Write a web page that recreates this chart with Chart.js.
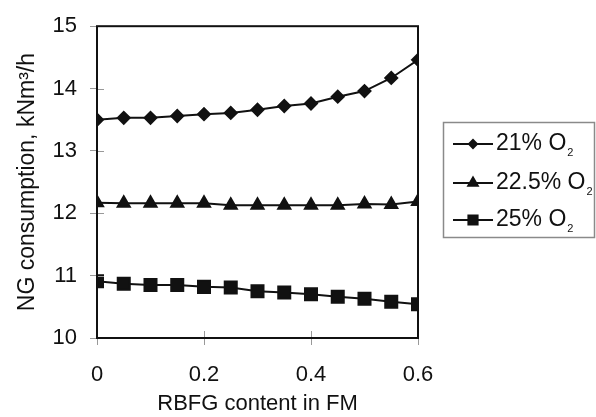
<!DOCTYPE html>
<html>
<head>
<meta charset="utf-8">
<script src="https://cdn.jsdelivr.net/npm/chart.js@4/dist/chart.umd.min.js"></script>
<style>
  html, body { margin: 0; padding: 0; background: #fff; }
  #wrap { width: 596px; height: 417px; }
</style>
</head>
<body>
<div id="wrap"><canvas id="chartscreen" width="596" height="417"></canvas></div>
<script>
// RBFG content in FM (x) and NG consumption for each O2 level
const rbfg = [0, 0.05, 0.1, 0.15, 0.2, 0.25, 0.3, 0.35, 0.4, 0.45, 0.5, 0.55, 0.6];
const o2_21 = [13.50, 13.53, 13.53, 13.56, 13.59, 13.61, 13.66, 13.72, 13.76, 13.87, 13.96, 14.17, 14.46];
const o2_225 = [12.17, 12.16, 12.16, 12.16, 12.16, 12.13, 12.13, 12.13, 12.13, 12.13, 12.15, 12.14, 12.19];
const o2_25 = [10.91, 10.87, 10.85, 10.85, 10.82, 10.81, 10.75, 10.73, 10.70, 10.66, 10.63, 10.58, 10.54];

const seriesNames = ["21% O", "22.5% O", "25% O"];
const xTicks = [0, 0.2, 0.4, 0.6];
const yTicks = [10, 11, 12, 13, 14, 15];

const FONT = "'Liberation Sans', Arial, sans-serif";

function pts(vals) {
    return rbfg.map((x, i) => ({ x: x, y: vals[i] }));
}

// frame round the plot, inward tick stubs and the boxed legend
const framePlugin = {
    id: 'frame',
    afterDraw(chart) {
        const ctx = chart.ctx;
        const a = chart.chartArea;
        const xs = chart.scales.x, ys = chart.scales.y;
        ctx.save();
        ctx.strokeStyle = '#999';
        ctx.lineWidth = 1;
        yTicks.forEach(v => {
            const py = Math.round(ys.getPixelForValue(v)) + 0.5;
            ctx.beginPath(); ctx.moveTo(a.left, py); ctx.lineTo(a.left + 7, py); ctx.stroke();
        });
        xTicks.forEach(v => {
            const px = Math.round(xs.getPixelForValue(v)) + 0.5;
            ctx.beginPath(); ctx.moveTo(px, a.bottom); ctx.lineTo(px, a.bottom - 7); ctx.stroke();
        });
        ctx.strokeStyle = '#111';
        ctx.lineWidth = 2;
        ctx.strokeRect(a.left, a.top, a.right - a.left, a.bottom - a.top);

        // legend
        ctx.strokeStyle = '#8a8a8a';
        ctx.lineWidth = 1.5;
        ctx.strokeRect(443.5, 122.5, 151, 115);
        const rowsY = [144, 183, 220];
        const styles = [['rectRot', 4], ['triangle', 5.5], ['rect', 6.5]];
        chart.data.datasets.forEach((ds, i) => {
            const y = rowsY[i];
            ctx.strokeStyle = '#111';
            ctx.lineWidth = 2;
            ctx.beginPath(); ctx.moveTo(453, y); ctx.lineTo(493, y); ctx.stroke();
            ctx.fillStyle = '#111';
            Chart.helpers.drawPoint(ctx, { pointStyle: styles[i][0], radius: styles[i][1], borderWidth: 1 }, 473, y);
            ctx.fill();
            ctx.fillStyle = '#111';
            ctx.font = '23px ' + FONT;
            ctx.textBaseline = 'middle';
            ctx.textAlign = 'left';
            ctx.fillText(seriesNames[i], 496, y);
            const w = ctx.measureText(seriesNames[i]).width;
            ctx.font = '11px ' + FONT;
            ctx.fillText('2', 496 + w + 1, y + 9);
        });
        ctx.restore();
    }
};

const chart_canvas = document.getElementById('chartscreen');

new Chart(chart_canvas, {
    type: 'line',
    data: {
        datasets: [{
            label: '21% O₂',
            data: pts(o2_21),
            borderColor: '#111',
            backgroundColor: '#111',
            borderWidth: 2,
            pointStyle: 'rectRot',
            pointRadius: 6
        }, {
            label: '22.5% O₂',
            data: pts(o2_225),
            borderColor: '#111',
            backgroundColor: '#111',
            borderWidth: 2,
            pointStyle: 'triangle',
            pointRadius: 7
        }, {
            label: '25% O₂',
            data: pts(o2_25),
            borderColor: '#111',
            backgroundColor: '#111',
            borderWidth: 2,
            pointStyle: 'rect',
            pointRadius: 8.5
        }]
    },
    options: {
        responsive: false,
        animation: false,
        layout: { padding: { top: 21, right: 178, left: 0, bottom: 0 } },
        plugins: {
            legend: { display: false },
            tooltip: { enabled: false }
        },
        elements: { line: { tension: 0 } },
        scales: {
            x: {
                type: 'linear',
                min: 0,
                max: 0.6,
                afterBuildTicks: s => { s.ticks = xTicks.map(v => ({ value: v })); },
                afterFit: s => { s.height = 79; },
                grid: { drawOnChartArea: false, drawTicks: true, tickLength: 7, color: '#999' },
                border: { display: false },
                ticks: {
                    color: '#111',
                    font: { family: FONT, size: 22 },
                    padding: 17,
                    callback: v => String(v)
                },
                title: {
                    display: true,
                    text: 'RBFG content in FM',
                    color: '#111',
                    font: { family: FONT, size: 22 },
                    padding: { top: 0, bottom: 0 }
                }
            },
            y: {
                min: 10,
                max: 15,
                afterBuildTicks: s => { s.ticks = yTicks.map(v => ({ value: v })); },
                afterFit: s => { s.width = 97; },
                grid: { drawOnChartArea: false, drawTicks: true, tickLength: 7, color: '#999' },
                border: { display: false },
                ticks: {
                    color: '#111',
                    font: { family: FONT, size: 22 },
                    padding: 13
                },
                title: {
                    display: true,
                    text: 'NG consumption, kNm³/h',
                    color: '#111',
                    font: { family: FONT, size: 23 },
                    padding: { top: 14, bottom: 0 }
                }
            }
        }
    },
    plugins: [framePlugin]
});
</script>
</body>
</html>
